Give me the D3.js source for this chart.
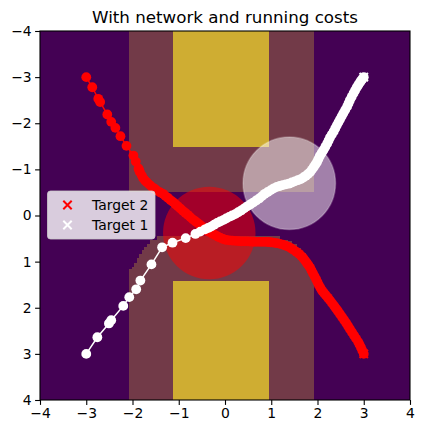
<!DOCTYPE html>
<html>
<head>
<meta charset="utf-8">
<script src="https://cdn.jsdelivr.net/npm/d3@7.9.0/dist/d3.min.js"></script>
<style>
  body { margin: 0; background: #fff; }
  svg { font-family: "DejaVu Sans", sans-serif; }
</style>
</head>
<body>
<svg id="chart" width="424" height="433"></svg>
<script>
// === Data (data units) ===
const ticks = [-4, -3, -2, -1, 0, 1, 2, 3, 4];

// obstacles (yellow) and their cost halo (mauve), as [x0, x1, y0, y1]
const obstacles = [
  [-1.12, 0.95, -4, -1.48],
  [-1.12, 0.95, 1.42, 4]
];
const halo = [
  [-2.08, 1.92, -4, -0.52],
  [-2.08, -2.02, 1.17, 4],
  [-2.02, -1.97, 1.11, 4],
  [-1.97, -1.91, 1.02, 4],
  [-1.91, -1.86, 0.93, 4],
  [-1.86, -1.80, 0.84, 4],
  [-1.80, -1.75, 0.75, 4],
  [-1.75, -1.69, 0.68, 4],
  [-1.69, -1.62, 0.62, 4],
  [-1.62, -1.47, 0.53, 4],
  [-1.47, 1.19, 0.45, 4],
  [1.19, 1.36, 0.53, 4],
  [1.36, 1.45, 0.56, 4],
  [1.45, 1.55, 0.62, 4],
  [1.55, 1.65, 0.70, 4],
  [1.65, 1.75, 0.82, 4],
  [1.75, 1.85, 0.96, 4],
  [1.85, 1.92, 1.10, 4]
];

// cost circles [cx, cy, r]
const redZone = [-0.34, 0.38, 1.0];
const whiteZone = [1.39, -0.70, 1.0];

// trajectory towards target 2 (red)
const path2X = [-3.00, -2.87, -2.74, -2.70, -2.545, -2.46, -2.37, -2.26, -2.13, -1.98, -1.93,
  -1.87, -1.855, -1.84, -1.80, -1.77, -1.73, -1.69, -1.635, -1.58, -1.52, -1.47, -1.40, -1.34,
  -1.285, -1.23, -1.175, -1.12, -1.07, -1.02, -0.965, -0.91, -0.855, -0.80, -0.745, -0.69, -0.635,
  -0.58, -0.53, -0.48, -0.425, -0.37, -0.315, -0.26, -0.205, -0.15, -0.095, -0.04, 0.025, 0.09,
  0.155, 0.22, 0.285, 0.35, 0.415, 0.48, 0.545, 0.61, 0.675, 0.74, 0.80, 0.86, 0.925, 0.99, 1.055,
  1.12, 1.185, 1.25, 1.315, 1.38, 1.435, 1.49, 1.545, 1.60, 1.645, 1.69, 1.73, 1.77, 1.805, 1.84,
  1.87, 1.90, 1.935, 1.97, 2.00, 2.03, 2.065, 2.10, 2.14, 2.18, 2.225, 2.27, 2.315, 2.36, 2.40,
  2.44, 2.485, 2.53, 2.575, 2.62, 2.66, 2.70, 2.745, 2.79, 2.835, 2.88, 2.91, 2.94, 2.97, 3.00];
const path2Y = [-3.00, -2.78, -2.53, -2.46, -2.19, -2.03, -1.90, -1.72, -1.51, -1.30, -1.17,
  -1.02, -0.98, -0.94, -0.87, -0.81, -0.76, -0.72, -0.67, -0.62, -0.58, -0.54, -0.50, -0.47,
  -0.42, -0.38, -0.33, -0.29, -0.245, -0.20, -0.15, -0.10, -0.055, -0.01, 0.04, 0.09, 0.13,
  0.17, 0.21, 0.25, 0.295, 0.34, 0.37, 0.40, 0.43, 0.46, 0.485, 0.51, 0.53, 0.54,
  0.545, 0.55, 0.555, 0.56, 0.56, 0.56, 0.565, 0.57, 0.57, 0.57, 0.57, 0.57, 0.575, 0.58, 0.59,
  0.60, 0.615, 0.63, 0.655, 0.68, 0.715, 0.75, 0.79, 0.83, 0.875, 0.92, 0.975, 1.03, 1.08, 1.13,
  1.19, 1.25, 1.315, 1.38, 1.445, 1.51, 1.57, 1.63, 1.68, 1.73, 1.785, 1.84, 1.90, 1.96, 2.015,
  2.07, 2.135, 2.20, 2.265, 2.33, 2.395, 2.46, 2.53, 2.60, 2.67, 2.74, 2.80, 2.86, 2.93, 3.00];

// trajectory towards target 1 (white)
const path1X = [-3.00, -2.76, -2.51, -2.46, -2.20, -2.07, -1.92, -1.83, -1.59, -1.36, -1.135, -0.85,
  -0.64, -0.535, -0.43, -0.365, -0.30, -0.235, -0.17, -0.105, -0.04, 0.025, 0.09, 0.155, 0.22, 0.285,
  0.35, 0.415, 0.48, 0.545, 0.61, 0.675, 0.74, 0.80, 0.86, 0.925, 0.99, 1.055, 1.12, 1.185, 1.25,
  1.315, 1.38, 1.445, 1.51, 1.575, 1.64, 1.695, 1.75, 1.795, 1.84, 1.88, 1.92, 1.955, 1.99, 2.02,
  2.05, 2.09, 2.13, 2.17, 2.21, 2.24, 2.27, 2.31, 2.35, 2.385, 2.42, 2.455, 2.49, 2.525, 2.56, 2.60,
  2.64, 2.67, 2.70, 2.74, 2.78, 2.815, 2.85, 2.885, 2.92, 2.945, 2.97, 3.00];
const path1Y = [3.00, 2.64, 2.34, 2.27, 1.96, 1.77, 1.60, 1.41, 1.06, 0.69, 0.59, 0.49,
  0.40, 0.35, 0.30, 0.27, 0.24, 0.20, 0.16, 0.13, 0.10, 0.065, 0.03, 0.00, -0.03, -0.07,
  -0.11, -0.155, -0.20, -0.24, -0.28, -0.325, -0.37, -0.42, -0.47, -0.51, -0.55, -0.59, -0.62, -0.64, -0.66,
  -0.675, -0.69, -0.715, -0.74, -0.765, -0.79, -0.825, -0.86, -0.90, -0.94, -0.995, -1.05, -1.105, -1.16, -1.225,
  -1.29, -1.355, -1.42, -1.49, -1.56, -1.625, -1.69, -1.755, -1.82, -1.89, -1.96, -2.025, -2.09, -2.155, -2.22, -2.29,
  -2.36, -2.43, -2.50, -2.575, -2.65, -2.715, -2.78, -2.835, -2.89, -2.925, -2.96, -3.00];

const targets = [
  { label: 'Target 2', x: 3, y: 3, color: '#ff0000' },
  { label: 'Target 1', x: 3, y: -3, color: '#ffffff' }
];

// === Layout ===
const svg = d3.select('#chart');
const x = d3.scaleLinear().domain([-4, 4]).range([40, 410]);
const y = d3.scaleLinear().domain([-4, 4]).range([31, 400]); // inverted y

const plot = svg.append('g');
plot.append('defs').append('clipPath').attr('id', 'clip')
  .append('rect').attr('x', 40).attr('y', 31).attr('width', 370).attr('height', 369);
const inner = plot.append('g').attr('clip-path', 'url(#clip)');

// background
inner.append('rect').attr('x', 40).attr('y', 31).attr('width', 370).attr('height', 369)
  .attr('fill', '#440154');

const rect = (g, d, fill) => g.append('rect')
  .attr('x', x(d[0])).attr('y', y(d[2]))
  .attr('width', x(d[1]) - x(d[0])).attr('height', y(d[3]) - y(d[2]))
  .attr('fill', fill).attr('shape-rendering', 'crispEdges');

halo.forEach((d) => rect(inner, d, '#723a48'));
obstacles.forEach((d) => rect(inner, d, '#cfad32'));

// cost circles
inner.append('circle')
  .attr('cx', x(redZone[0])).attr('cy', y(redZone[1])).attr('r', x(redZone[2]) - x(0))
  .attr('fill', '#ff0000').attr('fill-opacity', 0.5);
inner.append('circle')
  .attr('cx', x(whiteZone[0])).attr('cy', y(whiteZone[1])).attr('r', x(whiteZone[2]) - x(0))
  .attr('fill', '#ffffff').attr('fill-opacity', 0.5)
  .attr('stroke', '#ffffff').attr('stroke-opacity', 0.25).attr('stroke-width', 1.5);

// trajectories
function drawPath(xs, ys, color) {
  const pts = xs.map((v, i) => [v, ys[i]]);
  inner.append('path')
    .attr('d', d3.line().x((d) => x(d[0])).y((d) => y(d[1]))(pts))
    .attr('fill', 'none').attr('stroke', color).attr('stroke-width', 1.5);
  inner.append('g').selectAll('circle').data(pts).join('circle')
    .attr('cx', (d) => x(d[0])).attr('cy', (d) => y(d[1])).attr('r', 4.9)
    .attr('fill', color);
}
drawPath(path2X, path2Y, '#ff0000');
drawPath(path1X, path1Y, '#ffffff');

// target markers
const cross = (g, cx, cy, s, color) => g.append('path')
  .attr('d', `M${cx - s},${cy - s}L${cx + s},${cy + s}M${cx - s},${cy + s}L${cx + s},${cy - s}`)
  .attr('stroke', color).attr('stroke-width', 2).attr('fill', 'none');
targets.forEach((t) => cross(inner, x(t.x), y(t.y), 4.2, t.color));

// === Axes ===
const fmt = (d) => (d < 0 ? '\u2212' + Math.abs(d) : String(d));
const xAxis = svg.append('g').attr('transform', 'translate(0,400)')
  .call(d3.axisBottom(x).tickValues(ticks).tickFormat(fmt).tickSize(4.9).tickPadding(3.5));
const yAxis = svg.append('g').attr('transform', 'translate(40,0)')
  .call(d3.axisLeft(y).tickValues(ticks).tickFormat(fmt).tickSize(4.9).tickPadding(3.5));
[xAxis, yAxis].forEach((a) => {
  a.select('.domain').remove();
  a.selectAll('text').attr('font-size', 13.9).attr('font-family', 'DejaVu Sans').attr('fill', '#000');
  a.selectAll('line').attr('stroke', '#000').attr('stroke-width', 1.1);
});

svg.append('rect').attr('x', 40).attr('y', 31).attr('width', 370).attr('height', 369)
  .attr('fill', 'none').attr('stroke', '#000').attr('stroke-width', 1.1);

// title
svg.append('text').attr('x', 225).attr('y', 23).attr('text-anchor', 'middle')
  .attr('font-size', 16.7).attr('fill', '#000').text('With network and running costs');

// === Legend ===
const legend = svg.append('g');
legend.append('rect').attr('x', 47.5).attr('y', 191).attr('width', 107.5).attr('height', 48)
  .attr('rx', 3).attr('fill', '#ffffff').attr('fill-opacity', 0.8)
  .attr('stroke', '#cccccc').attr('stroke-opacity', 0.8);
targets.forEach((t, i) => {
  const ly = 205 + i * 20;
  cross(legend, 67.5, ly, 4.2, t.color);
  legend.append('text').attr('x', 92).attr('y', ly + 5).attr('font-size', 13.9)
    .attr('fill', '#000').text(t.label);
});
</script>
</body>
</html>
